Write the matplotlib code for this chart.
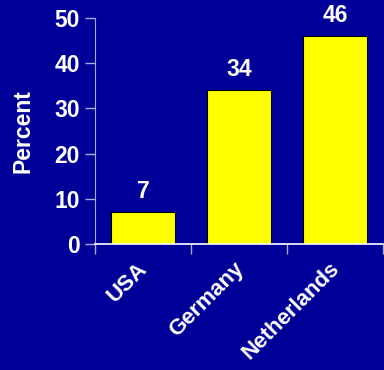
import matplotlib
matplotlib.use('Agg')
import matplotlib.pyplot as plt
import matplotlib.transforms as mtransforms

countries = ['USA', 'Germany', 'Netherlands']
percent = [7, 34, 46]
y_ticks = [0, 10, 20, 30, 40, 50]

BG = '#000099'
FS = 16.5
plt.rcParams['font.family'] = ['Liberation Sans', 'DejaVu Sans']
plt.rcParams['font.weight'] = 'bold'

fig = plt.figure(figsize=(3.84, 3.70), dpi=100, facecolor=BG)
ax = fig.add_axes([95 / 384, 126 / 370, 288 / 384, 226 / 370])
ax.set_facecolor(BG)

x = range(len(countries))
bars = ax.bar(x, percent, width=0.66, color='#ffff00', edgecolor='black', linewidth=0.8)
for i, v in zip(x, percent):
    ax.text(i, v + 2.0, str(v), ha='center', va='bottom', color='white',
            fontsize=FS, fontweight='bold')

ax.set_xlim(-0.5, 2.5)
ax.set_ylim(0, 50)
ax.set_yticks(y_ticks)
ax.set_yticklabels([str(t) for t in y_ticks], color='white', fontsize=FS, fontweight='bold')

# ticks sit on the category boundaries, labels on the bars
ax.set_xticks([-0.5, 0.5, 1.5, 2.5])
ax.set_xticklabels([])
ax.set_xticks(list(x), minor=True)
ax.set_xticklabels(countries, minor=True, rotation=45, ha='right', rotation_mode='anchor',
                   color='white', fontsize=16, fontweight='bold')
ax.tick_params(axis='x', which='minor', length=0, pad=10)
ax.tick_params(axis='x', which='major', length=7, color='#aaaadd', width=1)
ax.tick_params(axis='y', length=7, color='#aaaadd', width=1, pad=4)
shift = mtransforms.ScaledTranslation(-6 / 100, 0, fig.dpi_scale_trans)
for lbl in ax.get_xticklabels(minor=True):
    lbl.set_transform(lbl.get_transform() + shift)

ax.set_ylabel('Percent', color='white', fontsize=FS, fontweight='bold', labelpad=14)

for side in ['top', 'right']:
    ax.spines[side].set_visible(False)
ax.spines['left'].set_color('#aaaadd')
ax.spines['bottom'].set_color('white')
ax.spines['bottom'].set_linewidth(1.2)

fig.savefig('out.png', dpi=100, facecolor=BG)
